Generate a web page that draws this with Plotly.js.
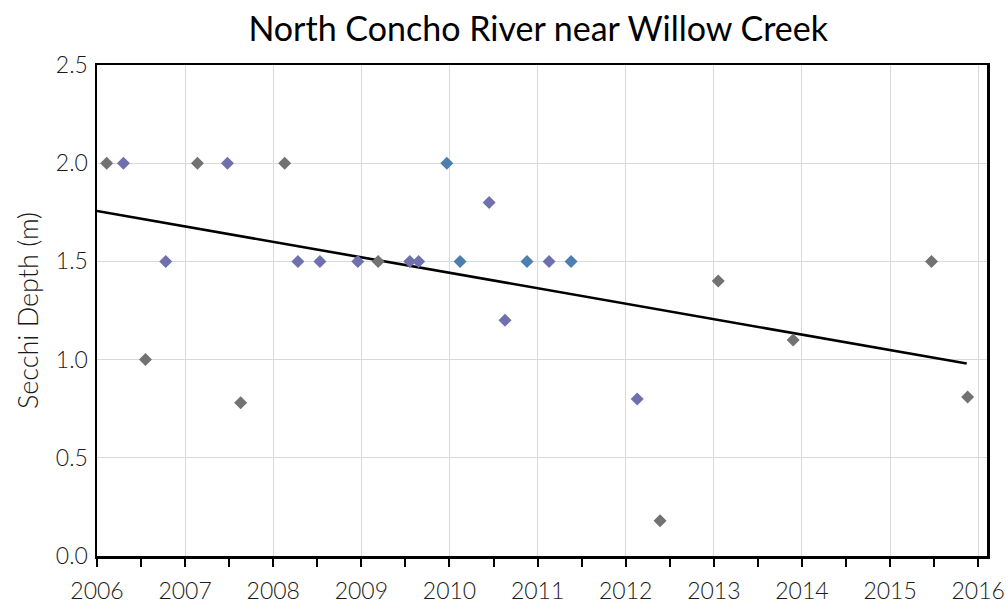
<!DOCTYPE html>
<html>
<head>
<meta charset="utf-8">
<script src="https://cdn.plot.ly/plotly-3.0.1.min.js"></script>
<style>html,body{margin:0;padding:0;background:#fff;}#chart{width:1006px;height:606px;}</style>
</head>
<body>
<div id="chart"></div>
<script>
// Sample dates (decimal years) and Secchi depths (m), grouped by marker colour
const grayYears   = [2006.11, 2006.55, 2007.14, 2007.63, 2008.13, 2009.19, 2012.39, 2013.05, 2013.90, 2015.47, 2015.88];
const grayDepths  = [2.0,     1.0,     2.0,     0.78,    2.0,     1.5,     0.18,    1.4,     1.1,     1.5,     0.81];
const purpleYears  = [2006.30, 2006.78, 2007.48, 2008.28, 2008.53, 2008.96, 2009.55, 2009.65, 2010.45, 2010.63, 2011.13, 2012.13];
const purpleDepths = [2.0,     1.5,     2.0,     1.5,     1.5,     1.5,     1.5,     1.5,     1.8,     1.2,     1.5,     0.8];
const blueYears  = [2009.97, 2010.12, 2010.88, 2011.38];
const blueDepths = [2.0,     1.5,     1.5,     1.5];
// Trend line end points
const trendYears  = [2006.0, 2015.87];
const trendDepths = [1.757, 0.98];
const yearTicks = [2006, 2007, 2008, 2009, 2010, 2011, 2012, 2013, 2014, 2015, 2016];
const depthTicks = [0, 0.5, 1.0, 1.5, 2.0, 2.5];

const FONT = 'Lato, "Open Sans", sans-serif';
const mk = (c) => ({symbol: 'diamond', size: 10, color: c, line: {width: 0}});

const traces = [
  {x: trendYears, y: trendDepths, type: 'scatter', mode: 'lines', line: {color: '#000', width: 2.6}, hoverinfo: 'skip'},
  {x: grayYears, y: grayDepths, type: 'scatter', mode: 'markers', marker: mk('#727272')},
  {x: purpleYears, y: purpleDepths, type: 'scatter', mode: 'markers', marker: mk('#6f70ad')},
  {x: blueYears, y: blueDepths, type: 'scatter', mode: 'markers', marker: mk('#4d7fae')}
];

const layout = {
  width: 1006, height: 606,
  paper_bgcolor: '#fff', plot_bgcolor: '#fff',
  showlegend: false,
  margin: {l: 97, r: 19, t: 65, b: 50},
  title: {text: 'North Concho River near Willow Creek', font: {family: FONT, size: 34, color: '#000'},
          x: 0.535, xanchor: 'center', y: 0.952, yanchor: 'middle'},
  xaxis: {
    range: [2006, 2016.1], tickmode: 'array', tickvals: yearTicks, ticktext: yearTicks.map(String),
    showgrid: true, gridcolor: '#d9d9d9', gridwidth: 1, zeroline: false,
    showline: true, linecolor: '#000', linewidth: 2.5, mirror: true,
    ticks: 'outside', ticklen: 8, tickwidth: 2, tickcolor: '#000', ticklabelstandoff: 5,
    minor: {dtick: 0.5, tick0: 2006, ticks: 'outside', ticklen: 8, tickwidth: 2, tickcolor: '#000', showgrid: false},
    tickfont: {family: FONT, size: 23, color: '#1a1a1a', weight: 300}
  },
  yaxis: {
    range: [0, 2.5], tickmode: 'array', tickvals: depthTicks, ticktext: depthTicks.map(v => v.toFixed(1)),
    showgrid: true, gridcolor: '#d9d9d9', gridwidth: 1, zeroline: false,
    showline: true, linecolor: '#000', linewidth: 2.5, mirror: true,
    ticks: '', ticklabelstandoff: 2,
    tickfont: {family: FONT, size: 23, color: '#1a1a1a', weight: 300},
    title: {text: 'Secchi Depth (m)', font: {family: FONT, size: 27, color: '#1a1a1a', weight: 300}, standoff: 10}
  }
};

Plotly.newPlot('chart', traces, layout, {staticPlot: true, displayModeBar: false});
</script>
</body>
</html>
